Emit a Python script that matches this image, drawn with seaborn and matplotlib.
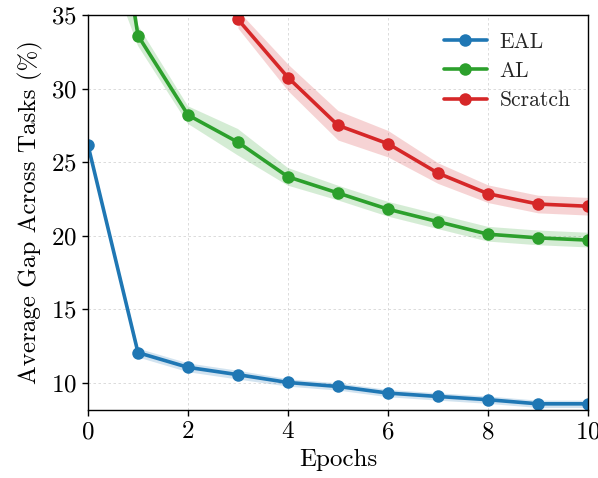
import numpy as np
import pandas as pd
import seaborn as sns
import matplotlib.pyplot as plt

# values
epochs = list(range(11))
eal_mean = [26.15, 12.05, 11.05, 10.55, 10.02, 9.75, 9.3, 9.07, 8.85, 8.57, 8.57]
eal_std = [0.2, 0.3, 0.3, 0.3, 0.25, 0.25, 0.25, 0.25, 0.25, 0.25, 0.25]
al_mean = [55.0, 33.6, 28.2, 26.35, 24.0, 22.9, 21.8, 20.95, 20.1, 19.85, 19.7]
al_std = [13.0, 0.7, 0.6, 0.9, 0.6, 0.5, 0.5, 0.5, 0.5, 0.5, 0.5]
scratch_epochs = [3, 4, 5, 6, 7, 8, 9, 10]
scratch_mean = [34.7, 30.75, 27.5, 26.25, 24.25, 22.85, 22.15, 22.0]
scratch_std = [0.6, 0.9, 1.0, 0.9, 0.7, 0.6, 0.6, 0.6]

series = [
    ("EAL", epochs, eal_mean, eal_std, "tab:blue"),
    ("AL", epochs, al_mean, al_std, "tab:green"),
    ("Scratch", scratch_epochs, scratch_mean, scratch_std, "tab:red"),
]

sns.set_theme(style="white")
plt.rcParams['font.family'] = ['cmr10', 'DejaVu Serif']
plt.rcParams['mathtext.fontset'] = 'cm'
plt.rcParams['axes.formatter.use_mathtext'] = True

fig = plt.figure(figsize=(5.98, 4.78), dpi=100)
ax = fig.add_axes([88 / 598, 68 / 478, 500 / 598, 395 / 478])

for name, x, m, s, c in series:
    df = pd.DataFrame({'epoch': x, 'gap': m})
    lo = np.array(m) - np.array(s)
    hi = np.array(m) + np.array(s)
    ax.fill_between(x, lo, hi, color=c, alpha=0.2, linewidth=0)
    sns.lineplot(data=df, x='epoch', y='gap', ax=ax, color=c, marker='o',
                 markersize=9, markeredgewidth=0, linewidth=2.6, label=name)

ax.set_xlim(0, 10)
ax.set_ylim(8.15, 35)
ax.set_xticks([0, 2, 4, 6, 8, 10])
ax.set_yticks([10, 15, 20, 25, 30, 35])
ax.grid(True, linestyle=(0, (3, 3)), color='#d6d6d6', linewidth=0.6)
for sp in ax.spines.values():
    sp.set_color('black')
    sp.set_linewidth(1.0)
ax.tick_params(axis='both', labelsize=18, colors='black', length=4, width=1,
               direction='out', bottom=True, left=True, pad=4)
ax.set_xlabel("Epochs", fontsize=18, color='black', labelpad=4)
ax.set_ylabel("Average Gap Across Tasks (%)", fontsize=18, color='black', labelpad=6)
ax.legend(loc='upper right', frameon=False, fontsize=15.5, handlelength=2.0,
          borderaxespad=0.5, labelspacing=0.45, handletextpad=0.6,
          borderpad=0.3)

plt.savefig("out.png", dpi=100)
plt.close()
